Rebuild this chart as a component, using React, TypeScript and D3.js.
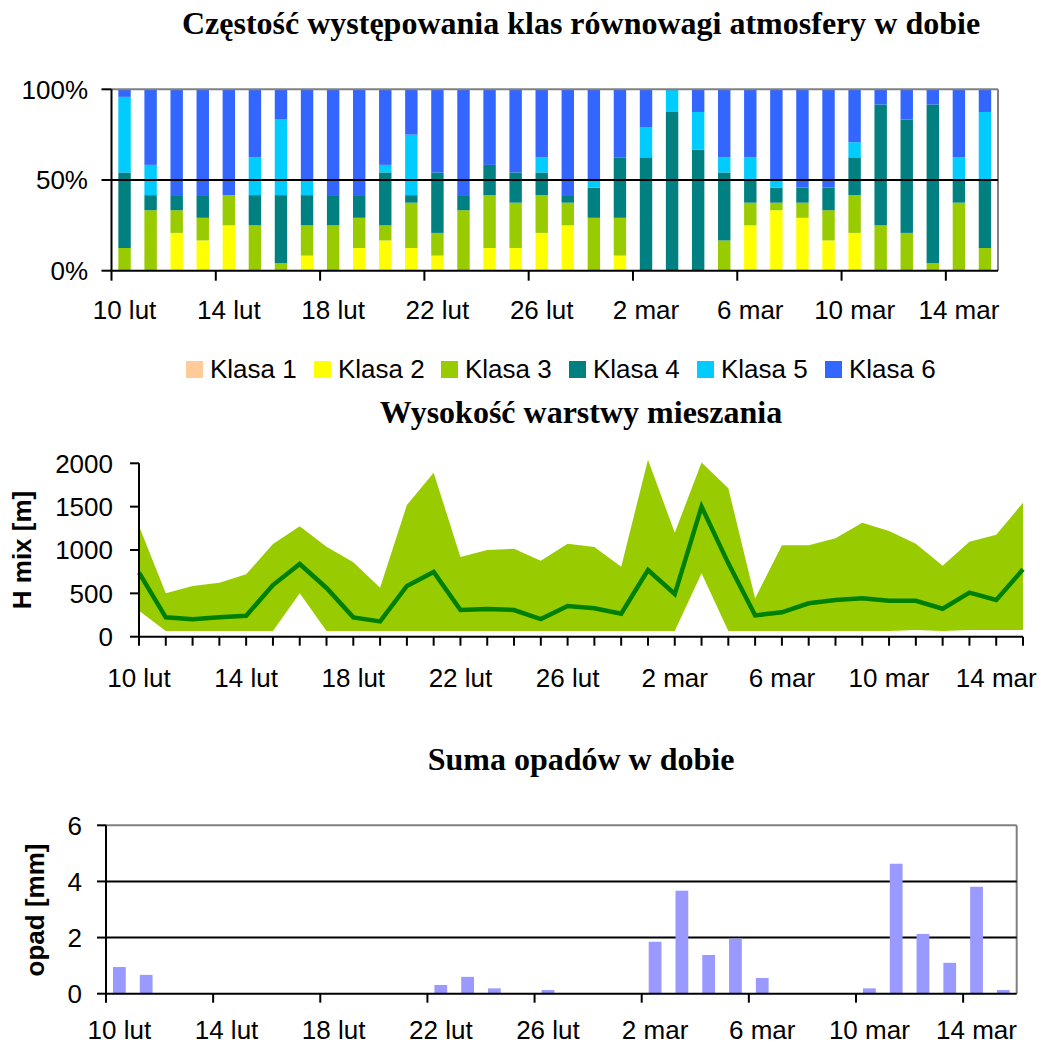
import React from "react";
import * as d3 from "d3";

const dates = [
  "10 lut","11 lut","12 lut","13 lut","14 lut","15 lut","16 lut","17 lut","18 lut","19 lut",
  "20 lut","21 lut","22 lut","23 lut","24 lut","25 lut","26 lut","27 lut","28 lut",
  "1 mar","2 mar","3 mar","4 mar","5 mar","6 mar","7 mar","8 mar","9 mar","10 mar",
  "11 mar","12 mar","13 mar","14 mar","15 mar",
];
const tickLabels = ["10 lut","14 lut","18 lut","22 lut","26 lut","2 mar","6 mar","10 mar","14 mar"];

// hours per day (out of 24) in each stability class
const klasa1 = [0,0,0,0,0,0,0,0,0,0,0,0,0,0,0,0,0,0,0,0,0,0,0,0,0,0,0,0,0,0,0,0,0,0];
const klasa2 = [0,0,5,4,6,0,0,2,0,3,4,3,2,0,3,3,5,6,0,2,0,0,0,0,6,8,7,4,5,0,0,0,0,0];
const klasa3 = [3,8,3,3,4,6,1,4,6,4,2,6,3,8,7,6,5,3,7,5,0,0,0,4,3,1,2,4,5,6,5,1,9,3];
const klasa4 = [10,2,2,3,0,4,9,4,4,3,7,1,8,2,4,4,3,1,4,8,15,21,16,9,3,2,2,3,5,16,15,21,3,9];
const klasa5 = [10,4,0,0,0,5,10,2,0,0,1,8,0,0,0,0,2,0,1,0,4,3,5,2,3,1,0,0,2,0,0,0,3,9];
const klasa6 = [1,10,14,14,14,9,4,12,14,14,10,6,11,14,10,11,9,14,12,9,5,0,3,9,9,12,13,13,7,2,4,2,9,3];
const classNames = ["Klasa 1","Klasa 2","Klasa 3","Klasa 4","Klasa 5","Klasa 6"];
const classColors = ["#FFCC99","#FFFF00","#99CC00","#008080","#00CCFF","#3366FF"];

const hMax = [1277,500,585,623,719,1069,1273,1038,858,565,1519,1892,919,1000,1015,877,1073,1035,808,2040,1200,2008,1712,442,1054,1054,1135,1315,1219,1073,819,1096,1177,1546];
const hMean = [738,223,200,223,242,596,838,562,223,177,585,746,308,319,308,204,354,327,265,769,492,1500,846,246,281,385,423,442,415,415,323,508,423,777];
const hMin = [300,65,65,65,65,65,500,65,65,65,65,65,65,65,65,65,65,65,65,65,65,731,65,65,65,65,65,65,65,77,65,77,77,77];

const opad = [0.95,0.67,0,0,0,0,0,0,0,0,0,0,0.31,0.6,0.19,0,0.13,0,0,0,1.85,3.67,1.38,1.96,0.56,0,0,0,0.19,4.63,2.13,1.1,3.81,0.13];

const SANS = "'Liberation Sans', Arial, sans-serif";
const SERIF = "'Liberation Serif', 'Times New Roman', serif";
const FS = 26;

export default function App() {
  // ---------- top chart ----------
  const tL = 111.5, tR = 998, tT = 89.3, tB = 270.7;
  const xTop = d3.scaleBand().domain(dates).range([tL, tR]).paddingInner(1.1 / 2.1).paddingOuter(0.55 / 2.1);
  const xTopBand = d3.scaleBand().domain(dates).range([tL, tR]);
  const yTop = d3.scaleLinear().domain([0, 1]).range([tB, tT]);
  const table = dates.map((d, i) => ({
    date: d,
    k1: klasa1[i], k2: klasa2[i], k3: klasa3[i], k4: klasa4[i], k5: klasa5[i], k6: klasa6[i],
  }));
  const keys = ["k1","k2","k3","k4","k5","k6"];
  const stacked = d3.stack().keys(keys).offset(d3.stackOffsetExpand)(table as any);

  // ---------- middle chart ----------
  const mL = 139, mR = 1023, mT = 463.3, mB = 636.7;
  const xMid = d3.scalePoint().domain(dates).range([mL, mR]);
  const yMid = d3.scaleLinear().domain([0, 2000]).range([mB, mT]);
  const area = d3.area<number>()
    .x((_, i) => xMid(dates[i])!)
    .y0((_, i) => yMid(hMin[i]))
    .y1((_, i) => yMid(hMax[i]));
  const line = d3.line<number>()
    .x((_, i) => xMid(dates[i])!)
    .y((d) => yMid(d));

  // ---------- bottom chart ----------
  const bL = 106, bR = 1016.7, bT = 825.3, bB = 993.7;
  const xBotBand = d3.scaleBand().domain(dates).range([bL, bR]);
  const bw = xBotBand.bandwidth() / 2.1;
  const yBot = d3.scaleLinear().domain([0, 6]).range([bB, bT]);

  const legendX = [186, 314, 441, 569, 697, 825];

  return (
    <svg width={1041} height={1044} style={{ position: "absolute", left: 0, top: 0, background: "#fff" }}>
      <rect x={0} y={0} width={1041} height={1044} fill="#fff" />
      {/* titles */}
      <g fontFamily={SERIF} fontWeight="bold" fontSize={32} textAnchor="middle" fill="#000">
        <text x={581} y={34}>Częstość występowania klas równowagi atmosfery w dobie</text>
        <text x={581} y={423}>Wysokość warstwy mieszania</text>
        <text x={581} y={770}>Suma opadów w dobie</text>
      </g>

      {/* ---------- TOP ---------- */}
      <g>
        {stacked.map((layer, li) => (
          <g key={li} fill={classColors[li]}>
            {layer.map((seg, i) => (
              seg[1] - seg[0] > 0 ? (
                <rect key={i} x={xTop(dates[i])} width={xTop.bandwidth()}
                  y={yTop(seg[1])} height={yTop(seg[0]) - yTop(seg[1])} />
              ) : null
            ))}
          </g>
        ))}
        <line x1={tL} x2={tR} y1={tT} y2={tT} stroke="#808080" strokeWidth={2} />
        <line x1={tR} x2={tR} y1={tT} y2={tB} stroke="#808080" strokeWidth={2} />
        <line x1={tL} x2={tR} y1={yTop(0.5)} y2={yTop(0.5)} stroke="#000" strokeWidth={2} />
        <line x1={tL} x2={tR} y1={tB} y2={tB} stroke="#000" strokeWidth={2} />
        <line x1={tL} x2={tL} y1={tT} y2={tB} stroke="#000" strokeWidth={2} />
        {[0, 0.5, 1].map((v) => (
          <g key={v}>
            <line x1={tL - 10} x2={tL} y1={yTop(v)} y2={yTop(v)} stroke="#000" strokeWidth={2} />
            <text x={88} y={yTop(v)} dy="0.36em" textAnchor="end" fontFamily={SANS} fontSize={FS}>{`${v * 100}%`}</text>
          </g>
        ))}
        {tickLabels.map((lab) => (
          <g key={lab}>
            <line x1={xTopBand(lab)!} x2={xTopBand(lab)!} y1={tB} y2={tB + 10} stroke="#000" strokeWidth={2} />
            <text x={xTopBand(lab)! + xTopBand.bandwidth() / 2} y={319} textAnchor="middle" fontFamily={SANS} fontSize={FS}>{lab}</text>
          </g>
        ))}
        {classNames.map((n, i) => (
          <g key={n}>
            <rect x={legendX[i]} y={361} width={17} height={17} fill={classColors[i]} />
            <text x={legendX[i] + 24} y={378} fontFamily={SANS} fontSize={FS}>{n}</text>
          </g>
        ))}
      </g>

      {/* ---------- MIDDLE ---------- */}
      <g>
        <path d={area(hMax) || ""} fill="#99CC00" />
        <path d={line(hMean) || ""} fill="none" stroke="#008000" strokeWidth={4.5} strokeLinejoin="miter" />
        <line x1={mL} x2={mR} y1={mB} y2={mB} stroke="#000" strokeWidth={2} />
        <line x1={mL} x2={mL} y1={mT} y2={mB} stroke="#000" strokeWidth={2} />
        {[0, 500, 1000, 1500, 2000].map((v) => (
          <g key={v}>
            <line x1={mL - 9} x2={mL} y1={yMid(v)} y2={yMid(v)} stroke="#000" strokeWidth={2} />
            <text x={113} y={yMid(v)} dy="0.36em" textAnchor="end" fontFamily={SANS} fontSize={FS}>{v}</text>
          </g>
        ))}
        {dates.map((d) => (
          <line key={d} x1={xMid(d)!} x2={xMid(d)!} y1={mB} y2={mB + 9} stroke="#000" strokeWidth={2} />
        ))}
        {tickLabels.map((lab) => (
          <text key={lab} x={xMid(lab)!} y={687} textAnchor="middle" fontFamily={SANS} fontSize={FS}>{lab}</text>
        ))}
        <text transform={`translate(22,550) rotate(-90)`} dy="0.36em" textAnchor="middle"
          fontFamily={SANS} fontWeight="bold" fontSize={FS}>H mix [m]</text>
      </g>

      {/* ---------- BOTTOM ---------- */}
      <g>
        <line x1={bL} x2={bR} y1={bT} y2={bT} stroke="#808080" strokeWidth={2} />
        <line x1={bR} x2={bR} y1={bT} y2={bB} stroke="#808080" strokeWidth={2} />
        {[2, 4].map((v) => (
          <line key={v} x1={bL} x2={bR} y1={yBot(v)} y2={yBot(v)} stroke="#000" strokeWidth={2} />
        ))}
        {opad.map((v, i) => (
          v > 0 ? (
            <rect key={i} x={xBotBand(dates[i])! + (xBotBand.bandwidth() - bw) / 2} width={bw}
              y={yBot(v)} height={yBot(0) - yBot(v)} fill="#9999FF" />
          ) : null
        ))}
        <line x1={bL} x2={bR} y1={bB} y2={bB} stroke="#000" strokeWidth={2} />
        <line x1={bL} x2={bL} y1={bT} y2={bB} stroke="#000" strokeWidth={2} />
        {[0, 2, 4, 6].map((v) => (
          <g key={v}>
            <line x1={bL - 9} x2={bL} y1={yBot(v)} y2={yBot(v)} stroke="#000" strokeWidth={2} />
            <text x={82} y={yBot(v)} dy="0.36em" textAnchor="end" fontFamily={SANS} fontSize={FS}>{v}</text>
          </g>
        ))}
        {tickLabels.map((lab) => (
          <g key={lab}>
            <line x1={xBotBand(lab)!} x2={xBotBand(lab)!} y1={bB} y2={bB + 9} stroke="#000" strokeWidth={2} />
            <text x={xBotBand(lab)! + xBotBand.bandwidth() / 2} y={1039} textAnchor="middle" fontFamily={SANS} fontSize={FS}>{lab}</text>
          </g>
        ))}
        <text transform={`translate(35,910) rotate(-90)`} dy="0.36em" textAnchor="middle"
          fontFamily={SANS} fontWeight="bold" fontSize={FS}>opad [mm]</text>
      </g>
    </svg>
  );
}
